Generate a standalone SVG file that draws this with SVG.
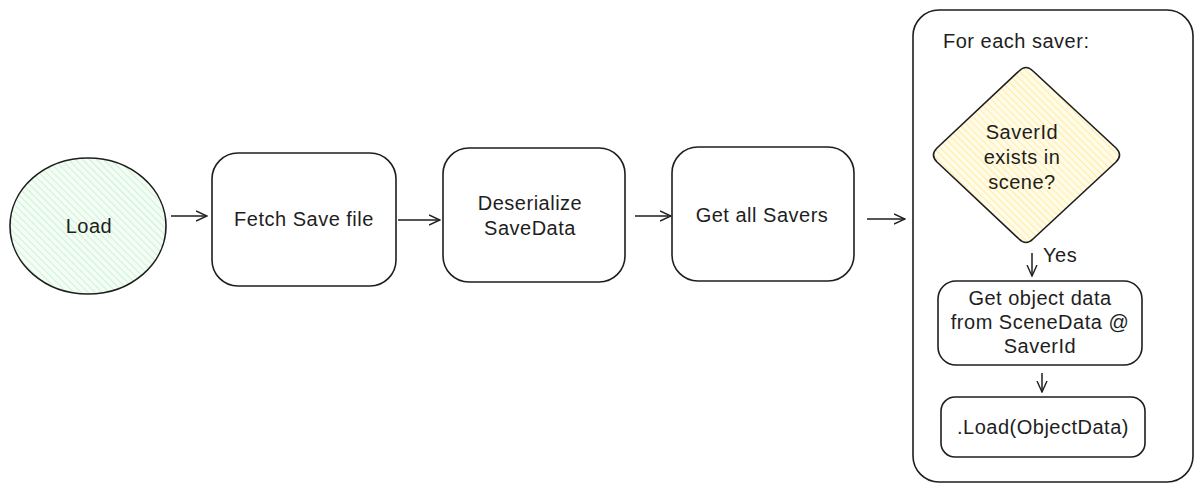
<svg xmlns="http://www.w3.org/2000/svg" width="1203" height="491" viewBox="0 0 1203 491">
  <style>
    .shape { stroke: #1e1e1e; stroke-width: 1.6; fill: #ffffff; }
    .label { font-family: "Liberation Sans", Arial, sans-serif; font-size: 20px; letter-spacing: 0.5px; fill: #1e1e1e; text-anchor: middle; }
    .left { text-anchor: start; }
    .conn { stroke: #1e1e1e; stroke-width: 1.5; fill: none; marker-end: url(#arrow); }
  </style>
  <defs>
    <marker id="arrow" viewBox="0 0 12 12" refX="11" refY="6" markerWidth="12" markerHeight="12" markerUnits="userSpaceOnUse" orient="auto">
      <path d="M0,1 L11,6 L0,11" fill="none" stroke="#1e1e1e" stroke-width="1.4"/>
    </marker>
    <pattern id="hatchGreen" patternUnits="userSpaceOnUse" width="5" height="5" patternTransform="rotate(-45)">
      <rect width="5" height="5" fill="#f4fdf5"/>
      <line x1="0" y1="0" x2="0" y2="5" stroke="#c3f0c8" stroke-width="1.6"/>
    </pattern>
    <pattern id="hatchYellow" patternUnits="userSpaceOnUse" width="5" height="5" patternTransform="rotate(-45)">
      <rect width="5" height="5" fill="#fffbe8"/>
      <line x1="0" y1="0" x2="0" y2="5" stroke="#ffec99" stroke-width="1.8"/>
    </pattern>
  </defs>

  <g id="loop-container">
    <rect class="shape" x="913" y="10" width="280" height="472" rx="26" ry="26"/>
    <text class="label left" x="943" y="48">For each saver:</text>
  </g>

  <g id="node-load">
    <ellipse class="shape" cx="88" cy="226" rx="78" ry="68" style="fill:url(#hatchGreen)"/>
    <text class="label" x="89" y="233">Load</text>
  </g>

  <g id="node-fetch">
    <rect class="shape" x="212" y="153" width="184" height="133" rx="26" ry="26"/>
    <text class="label" x="304" y="226">Fetch Save file</text>
  </g>

  <g id="node-deserialize">
    <rect class="shape" x="443" y="148" width="182" height="134" rx="26" ry="26"/>
    <text class="label" x="530" y="210">Deserialize</text>
    <text class="label" x="530" y="235">SaveData</text>
  </g>

  <g id="node-getsavers">
    <rect class="shape" x="672" y="147" width="182" height="134" rx="26" ry="26"/>
    <text class="label" x="762" y="222">Get all Savers</text>
  </g>

  <g id="node-decision">
    <path class="shape" style="fill:url(#hatchYellow)" d="M1019,71 Q1026,64 1033,71 L1116,148 Q1123,155 1116,162 L1033,239 Q1026,246 1019,239 L937,162 Q930,155 937,148 Z"/>
    <text class="label" x="1022" y="139">SaverId</text>
    <text class="label" x="1022" y="164">exists in</text>
    <text class="label" x="1022" y="189">scene?</text>
  </g>

  <g id="node-getobject">
    <rect class="shape" x="938" y="281" width="204" height="84" rx="18" ry="18"/>
    <text class="label" x="1040" y="305">Get object data</text>
    <text class="label" x="1040" y="329">from SceneData @</text>
    <text class="label" x="1040" y="353">SaverId</text>
  </g>

  <g id="node-loadobject">
    <rect class="shape" x="941" y="397" width="204" height="60" rx="14" ry="14"/>
    <text class="label" x="1043" y="434">.Load(ObjectData)</text>
  </g>

  <g id="connectors">
    <line class="conn" x1="171" y1="216" x2="207" y2="216"/>
    <line class="conn" x1="398" y1="220" x2="440" y2="220"/>
    <line class="conn" x1="635" y1="216" x2="671" y2="216"/>
    <line class="conn" x1="867" y1="219" x2="905" y2="219"/>
    <line class="conn" x1="1032" y1="253" x2="1032" y2="276"/>
    <text class="label left" x="1043" y="262">Yes</text>
    <line class="conn" x1="1042" y1="373" x2="1042" y2="392"/>
  </g>
</svg>
